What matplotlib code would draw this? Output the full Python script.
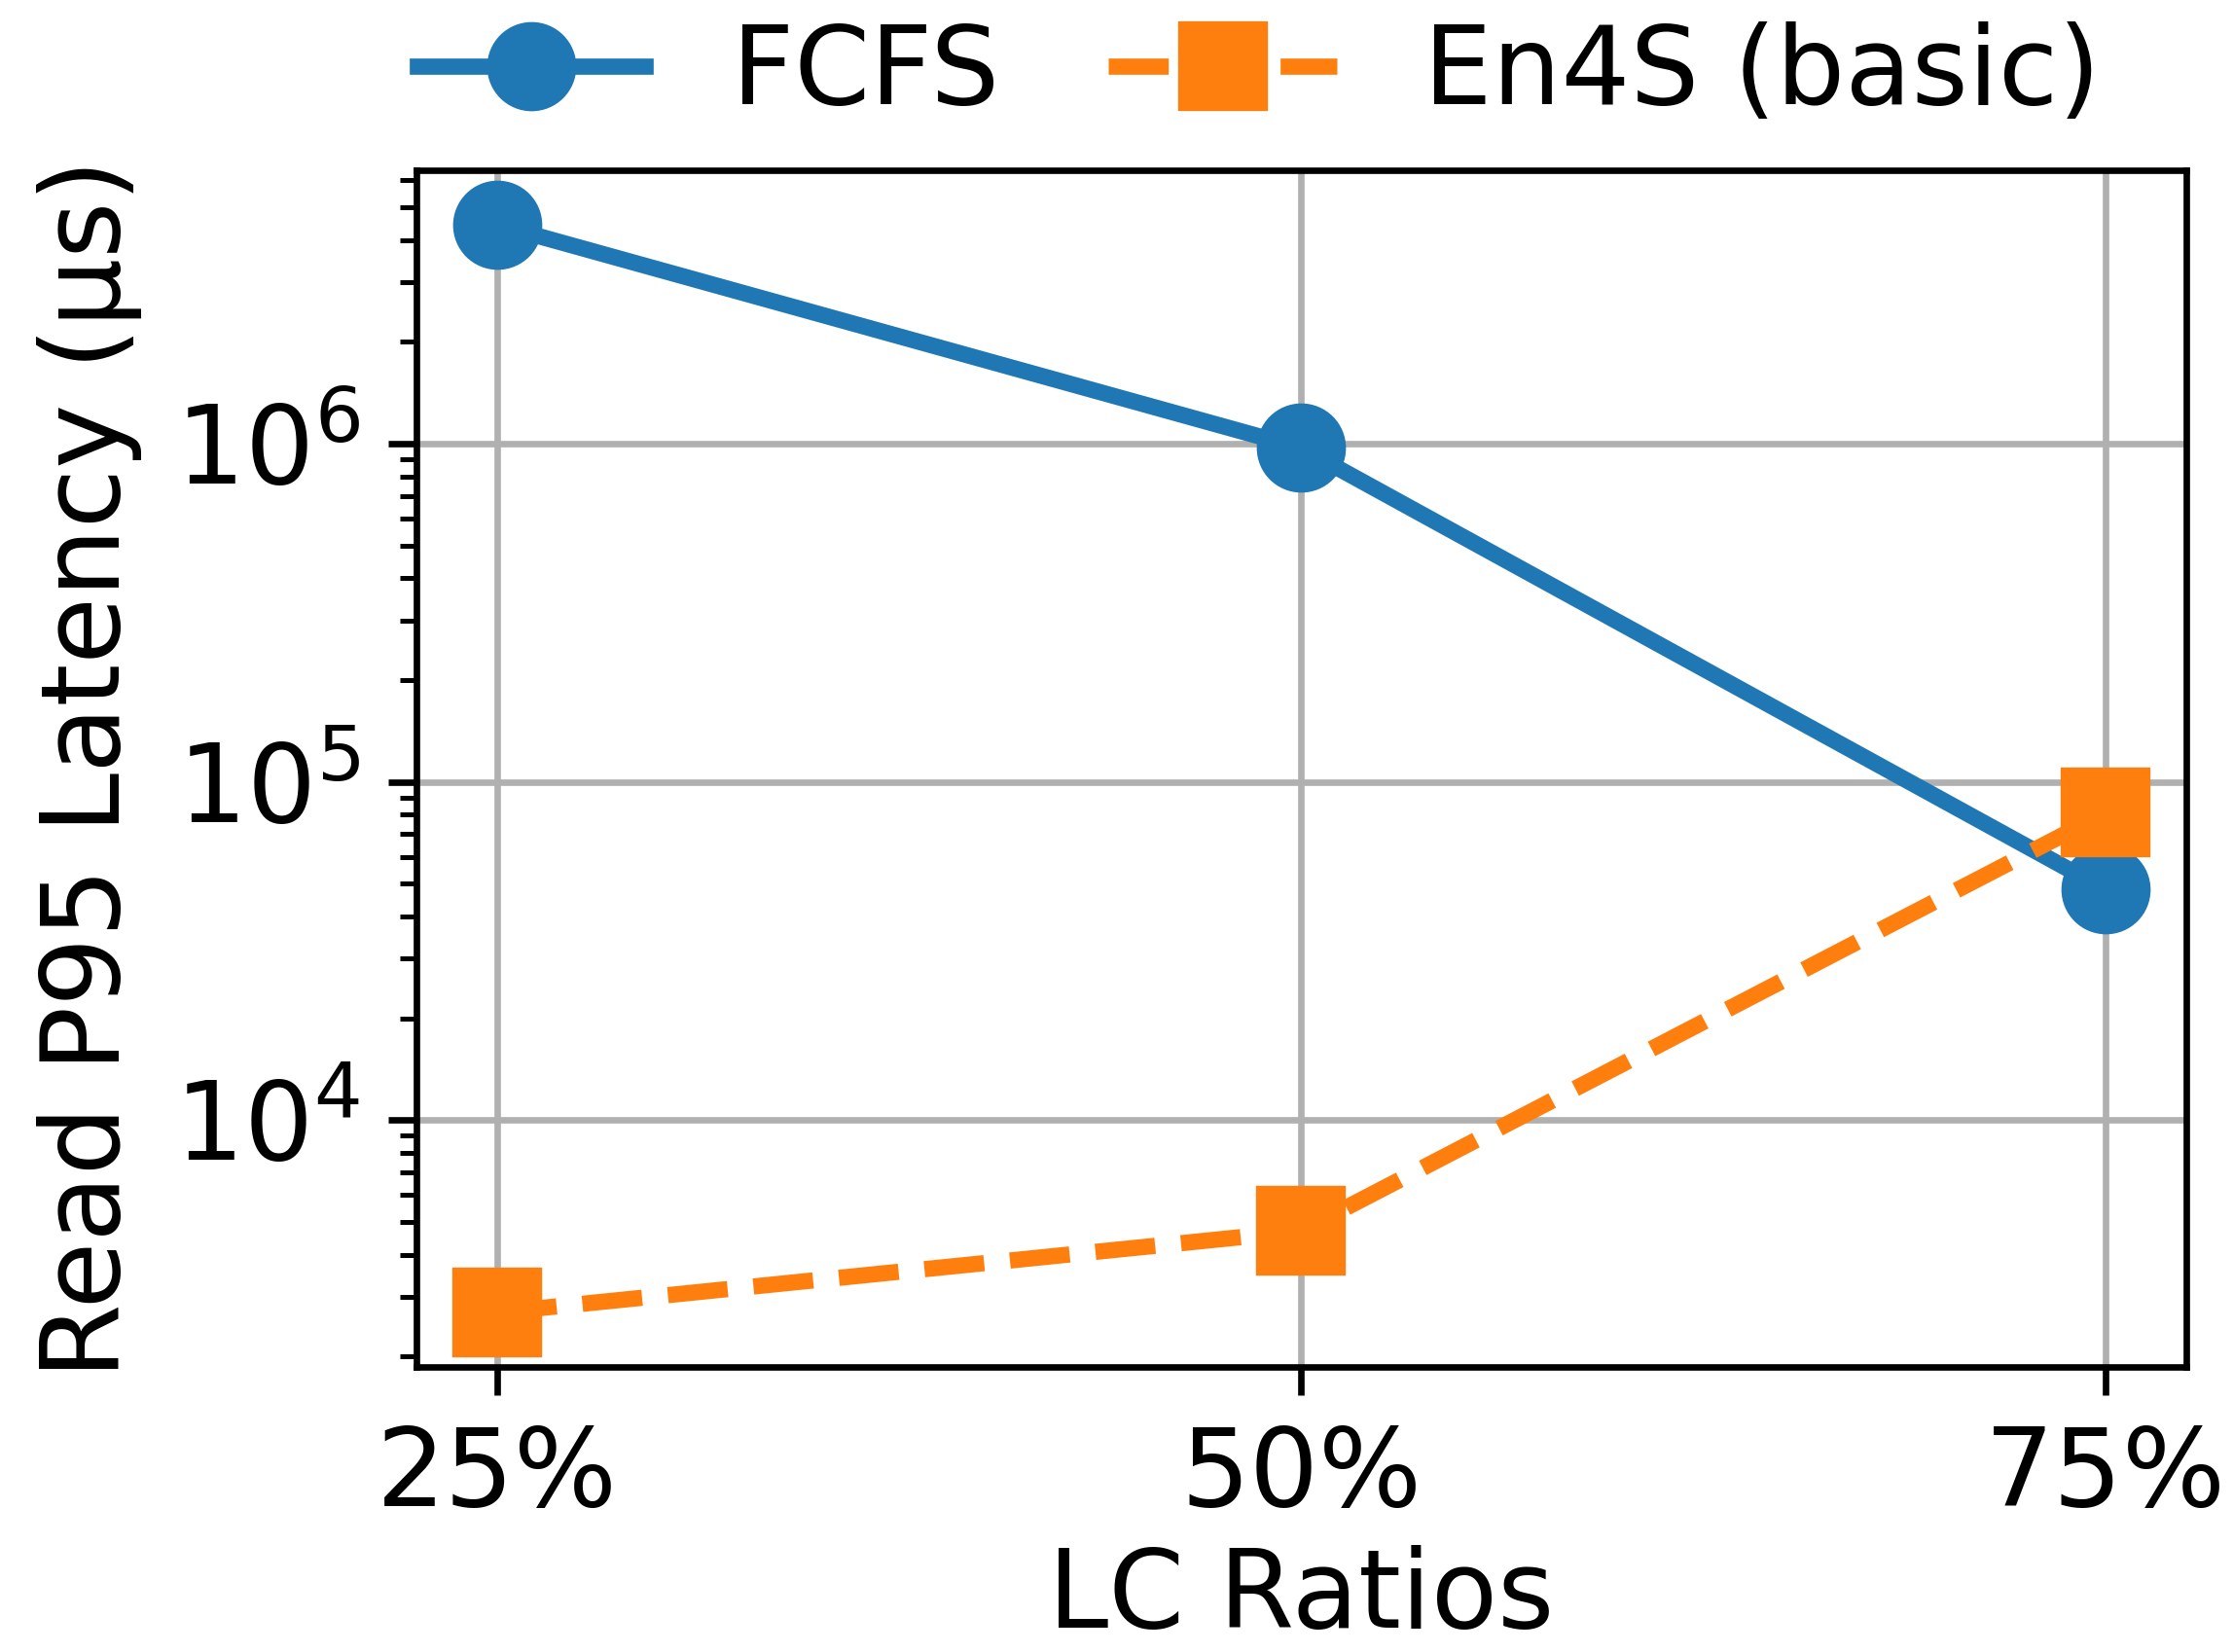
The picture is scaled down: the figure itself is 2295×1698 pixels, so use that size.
import matplotlib
matplotlib.use("Agg")
import matplotlib.pyplot as plt

ratios = [25, 50, 75]
ratio_labels = ["25%", "50%", "75%"]
fcfs = [4.44e6, 0.97e6, 4.8e4]
en4s_basic = [2.7e3, 4.7e3, 8.1e4]

plt.rcParams['font.size'] = 13.4

fig = plt.figure(figsize=(3.825, 2.83), dpi=600)
ax = fig.add_axes([0.1865, 0.1726, 0.979 - 0.1865, 0.897 - 0.1726])

ax.plot(ratios, fcfs, marker='o', linestyle='-', linewidth=2, markersize=10,
        color='#1f77b4', label='FCFS')
ax.plot(ratios, en4s_basic, marker='s', linestyle='--', linewidth=2, markersize=10,
        color='#ff7f0e', label='En4S (basic)')

ax.set_yscale('log')
ax.set_xticks(ratios)
ax.set_xticklabels(ratio_labels)
ax.set_xlabel('LC Ratios', labelpad=2)
ax.set_ylabel('Read P95 Latency (μs)')
ax.grid(True, which='major', color='#b0b0b0', linewidth=0.8)

ax.legend(loc='lower center', bbox_to_anchor=(0.476, 1.0), ncol=2, frameon=False,
          borderaxespad=0, columnspacing=1.0, handlelength=2.1)

fig.savefig('out.png', dpi=600)
